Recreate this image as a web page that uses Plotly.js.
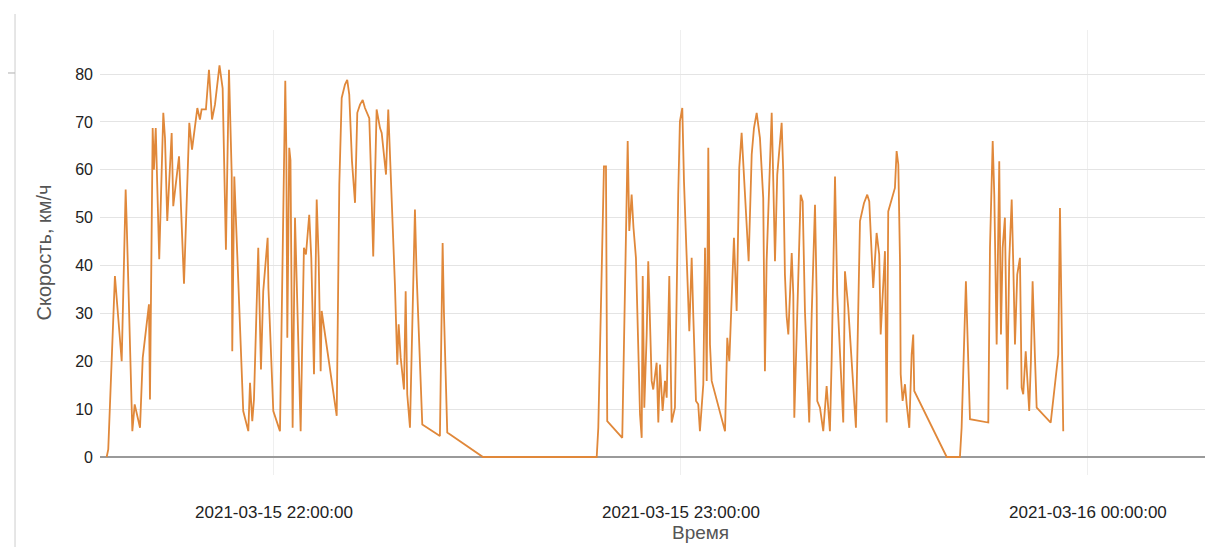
<!DOCTYPE html>
<html>
<head>
<meta charset="utf-8">
<script src="https://cdn.plot.ly/plotly-3.0.1.min.js"></script>
<style>html,body{margin:0;padding:0;background:#fff;}#chart{width:1205px;height:547px;}</style>
</head>
<body>
<div id="chart"></div>
<script>
// Trip start reference and elapsed seconds of each reading
const startTime = '2021-03-15T21:30:00';
const elapsedSec = [
  320,334,393,420,453,488,497,547,568,615,639,694,703,727,738,754,765,785,821,836,
  856,895,909,960,1004,1051,1075,1122,1145,1160,1198,1225,1252,1278,1318,1346,1375,1402,1426,1431,
  1449,1470,1528,1573,1588,1608,1623,1661,1685,1705,1727,1744,1751,1794,1853,1900,1909,1918,1935,1946,
  1965,1986,2001,2036,2065,2083,2112,2130,2154,2178,2195,2213,2222,2355,2378,2399,2428,2448,2466,2490,
  2517,2537,2561,2585,2605,2643,2655,2678,2708,2738,2753,2791,2811,2832,2870,2891,2903,2921,2950,2965,
  2979,3003,3032,3047,3062,3112,3268,3292,3304,3319,3333,3649,4655,
  4669,4708,4719,4737,4748,4881,4911,4929,4943,4964,4980,5002,5038,5053,5062,5076,5097,5111,5126,5141,
  5155,5185,5200,5215,5238,5259,5274,5297,5318,5347,5376,5391,5412,5427,5474,5495,5509,5533,5553,5568,
  5598,5613,5628,5642,5657,5672,5790,5810,5828,5869,5893,5916,5937,5966,5999,6026,6046,6070,6099,6128,
  6143,6158,6203,6217,6232,6252,6291,6305,6320,6335,6350,6380,6394,6403,6424,6459,6477,6497,6535,6557,
  6586,6601,6606,6630,6659,6689,6718,6733,6763,6783,6836,6851,6880,6948,6984,7019,7048,7066,7101,7131,
  7154,7167,7205,7220,7234,7293,7308,7323,7338,7344,7361,7382,7397,7420,7441,7455,7464,7751,7868,
  7883,7921,7933,7945,7957,8119,8134,8158,8172,8193,8216,8231,8246,8266,8287,8304,8326,8340,8355,8375,
  8399,8414,8428,8450,8464,8481,8496,8511,8532,8547,8671,8738,8753,8762,8782
];
const speedKmh = [
  0,1.6,37.8,30,20,55.9,49,5.4,11,6.1,20.7,31.9,12,68.7,60,68.7,60,41.3,71.9,66.6,
  49.3,67.7,52.4,62.8,36.2,69.8,64.2,72.9,70.5,72.6,72.6,80.9,70.5,73.6,81.8,77,43.3,80.9,59,22.1,
  58.6,46.5,9.6,5.4,15.5,7.5,12,43.7,18.3,34.6,41.6,45.8,35.3,9.6,5.4,78.6,64.6,24.9,64.6,62,
  6.1,50,36.7,5.4,43.7,42.3,50.6,41.6,17.3,53.8,41.6,17.9,30.5,8.6,56.9,75,77.8,78.8,75.7,61.8,
  53.1,71.9,73.6,74.6,72.9,70.8,61.8,41.9,72.6,68.7,67.7,59,72.6,60.4,36,19.3,27.7,20.7,14.1,34.6,
  13.1,6.1,39.5,51.7,38.1,6.8,4.4,44.7,29.8,15.2,5.1,0,0,
  6.1,50.6,60.7,60.7,7.5,4,45,66,47.2,54.8,48,41.6,8.9,4,37.8,10.3,25.6,40.9,28.4,15.9,
  14.1,19.7,7.2,19.3,9.6,15.9,12.4,37.8,7.2,10.3,54.8,70.1,72.9,57.6,26.3,41.6,29.8,11.7,11,5.4,
  15.2,43.7,15.9,64.6,23.5,15.9,5.4,24.9,20,45.8,30.5,60.4,67.7,54.8,40.9,63.2,68.7,71.9,66.6,54.1,
  17.9,40.9,71.9,57.6,40.9,59,69.8,59.7,38.1,29.4,25.6,42.6,33.9,8.2,25.6,54.8,53.4,30.5,7.2,30,
  52.7,33.3,11.7,10.3,5.4,14.8,5.4,20,58.6,33.9,7.2,38.8,31.2,6.1,49.3,53,54.8,53.4,35.3,46.8,
  42.3,25.6,43,7.2,51.3,56.2,63.9,61.1,40.9,17.3,11.7,15.2,11,6.1,21.4,25.6,13.8,0,0,
  6.1,36.7,27,15.9,7.9,7.2,43.7,66,54.8,23.5,61.8,25.6,43.7,50,14.1,40.9,53.8,40.2,23.5,38.1,
  41.6,14.5,13.1,22.1,15.9,9.6,20,36.7,20.7,10.3,7.2,21.4,52,39.5,5.4
];
const yTickValues = [0,10,20,30,40,50,60,70,80];
const xTitle = 'Время';
const yTitle = 'Скорость, км/ч';

function pad(n){return String(n).padStart(2,'0');}
const t0 = new Date(startTime).getTime();
const times = elapsedSec.map(s => {
  const d = new Date(t0 + s*1000);
  return d.getFullYear()+'-'+pad(d.getMonth()+1)+'-'+pad(d.getDate())+' '+pad(d.getHours())+':'+pad(d.getMinutes())+':'+pad(d.getSeconds());
});

const trace = {
  x: times, y: speedKmh, type: 'scatter', mode: 'lines',
  line: {color: '#e0883a', width: 1.8}, hoverinfo: 'x+y'
};

const fontFam = '"Liberation Sans", Arial, sans-serif';
const layout = {
  width: 1205, height: 547,
  margin: {l: 100, r: 0, t: 30, b: 72},
  paper_bgcolor: '#ffffff', plot_bgcolor: '#ffffff',
  showlegend: false,
  font: {family: fontFam, color: '#333'},
  xaxis: {
    type: 'date',
    range: ['2021-03-15 21:34:21', '2021-03-16 00:17:16'],
    tick0: '2021-03-15 22:00:00', dtick: 3600000,
    tickformat: '%Y-%m-%d %H:%M:%S',
    showgrid: true, gridcolor: '#efefef', gridwidth: 1,
    zeroline: false, showline: false, ticks: '',
    ticklabelstandoff: 25,
    tickfont: {size: 17, color: '#222', family: fontFam}
  },
  yaxis: {
    range: [-3.76, 89.2],
    tickvals: yTickValues,
    showgrid: true, gridcolor: '#e4e4e4', gridwidth: 1,
    zeroline: true, zerolinecolor: '#9a9a9a', zerolinewidth: 1.3,
    showline: false, ticks: '',
    ticklabelstandoff: 6,
    tickfont: {size: 16, color: '#222', family: fontFam},
    title: {text: yTitle, font: {size: 20, color: '#555', family: fontFam}, standoff: 18}
  },
  annotations: [
    {text: xTitle, xref: 'paper', yref: 'paper', x: 0.543, y: -0.13,
     xanchor: 'center', yanchor: 'middle', showarrow: false,
     font: {size: 19, color: '#555', family: fontFam}}
  ],
  shapes: [
    {type: 'line', xref: 'paper', yref: 'paper', x0: -0.0769, x1: -0.0769, y0: 1.036, y1: -0.17,
     line: {color: '#d6d6d6', width: 1.2}},
    {type: 'line', xref: 'paper', yref: 'paper', x0: -0.0833, x1: -0.0769, y0: 0.9034, y1: 0.9034,
     line: {color: '#bdbdbd', width: 1.2}}
  ]
};

Plotly.newPlot('chart', [trace], layout, {displayModeBar: false, staticPlot: true});
</script>
</body>
</html>
